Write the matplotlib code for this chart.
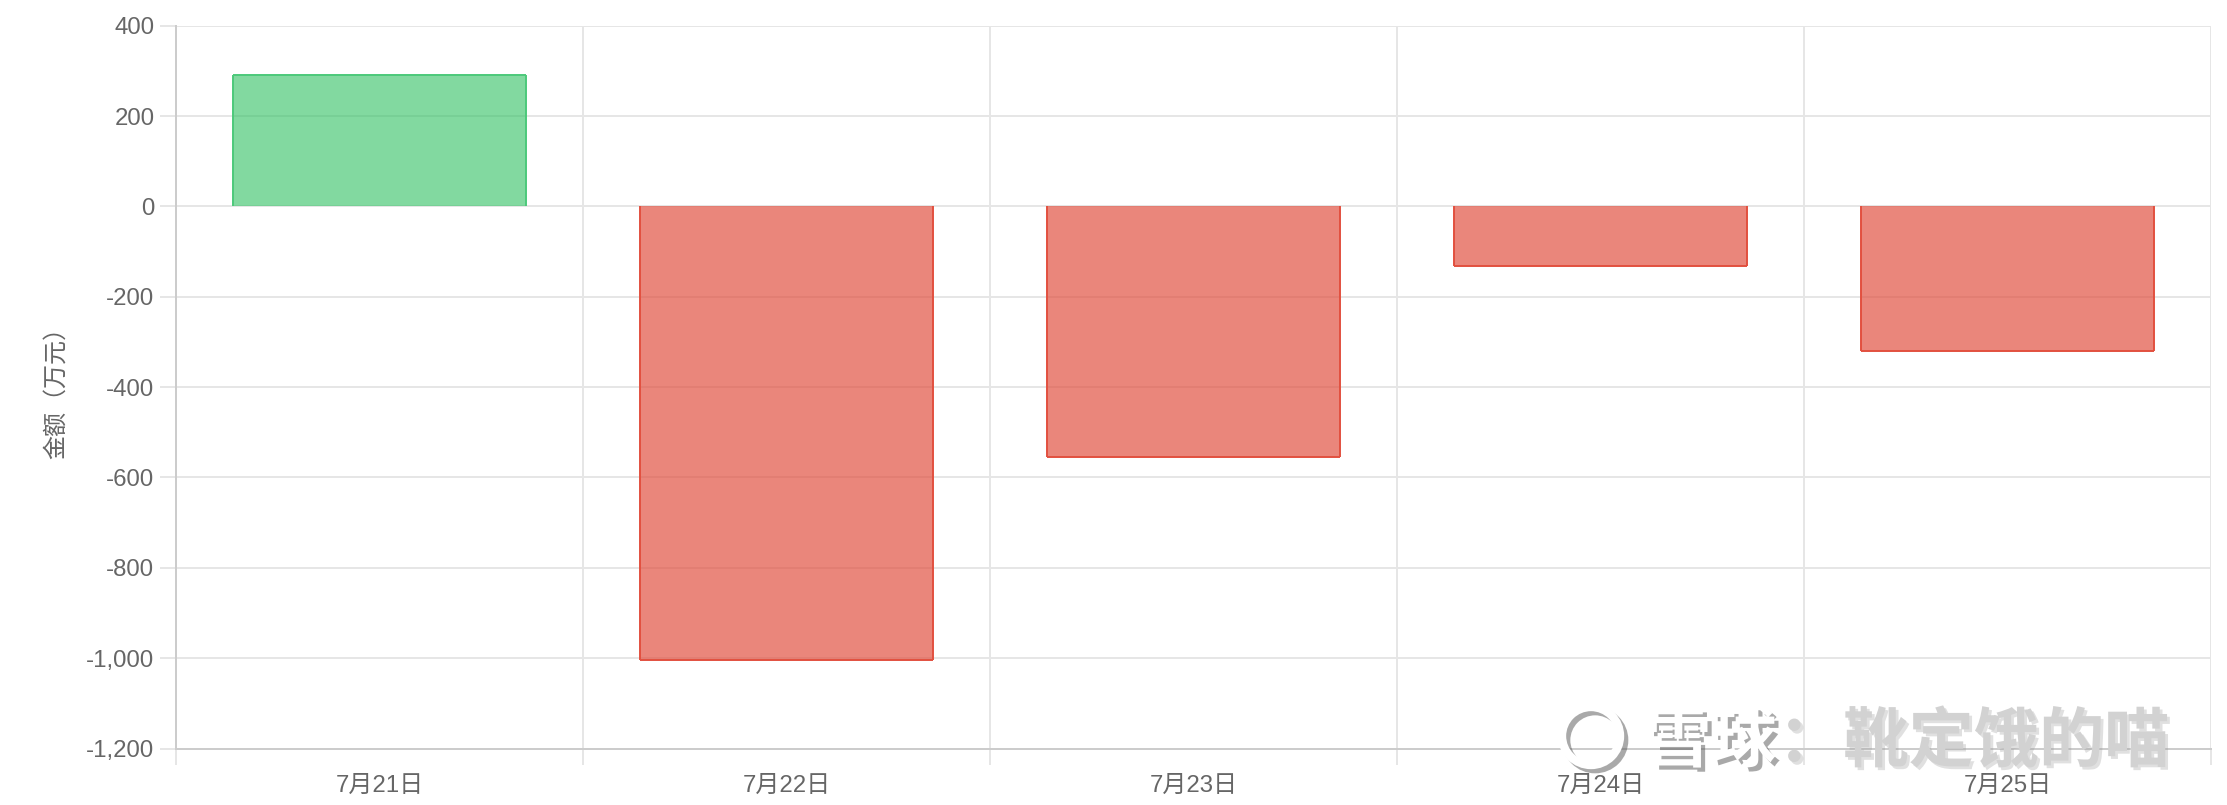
import matplotlib
matplotlib.use("Agg")
import matplotlib.pyplot as plt
import matplotlib.patheffects as pe
from matplotlib.patches import Circle
from matplotlib.transforms import IdentityTransform
from matplotlib.ticker import FuncFormatter, MultipleLocator, FixedLocator

plt.rcParams['font.family'] = ['Liberation Sans', 'Noto Sans CJK SC', 'DejaVu Sans']

# data
dates = ['7月21日', '7月22日', '7月23日', '7月24日', '7月25日']
amounts = [290, -1005, -555, -131, -321]
ylabel = '金额（万元）'
watermark_a = '雪球'
watermark_b = '：靴定饿的喵'

green_fill = (47/255, 192/255, 97/255, 0.6)
green_edge = '#4cc97a'
red_fill = (224/255, 70/255, 53/255, 0.65)
red_edge = '#e2503f'
grid_c = '#e6e6e6'
txt_c = '#666666'
fs = 17.3

fig = plt.figure(figsize=(22.27, 8.05), dpi=100)
ax = fig.add_axes([176/2227, 1-748.5/805, (2211-176)/2227, (748.5-25.7)/805])

x = list(range(len(dates)))
w = 0.72
fills = [green_fill if v >= 0 else red_fill for v in amounts]
edges = [green_edge if v >= 0 else red_edge for v in amounts]
ax.bar(x, amounts, width=w, color=fills, linewidth=0, zorder=2)
# borders on three sides (no border on the zero side)
for xi, v, ec in zip(x, amounts, edges):
    ax.vlines([xi - w/2, xi + w/2], 0, v, colors=ec, linewidth=1.4, zorder=3)
    ax.hlines(v, xi - w/2, xi + w/2, colors=ec, linewidth=1.4, zorder=3)

ax.set_xlim(-0.5, len(dates) - 0.5)
ax.set_ylim(-1200, 400)
ax.yaxis.set_major_locator(MultipleLocator(200))
ax.yaxis.set_major_formatter(FuncFormatter(lambda v, p: f'{int(v):,}'))

ax.set_xticks(x)
ax.set_xticklabels(dates)
ax.xaxis.set_minor_locator(FixedLocator([i + 0.5 for i in range(-1, len(dates))]))

ax.grid(axis='y', which='major', color=grid_c, linewidth=1.44, zorder=0)
ax.grid(axis='x', which='minor', color=grid_c, linewidth=1.44, zorder=0)
ax.set_axisbelow(True)

ax.tick_params(axis='y', which='major', length=11.5, width=1.44, color=grid_c,
               pad=4, labelsize=fs, labelcolor=txt_c)
ax.tick_params(axis='x', which='major', length=0, pad=19, labelsize=fs, labelcolor=txt_c)
ax.tick_params(axis='x', which='minor', length=11.5, width=1.44, color=grid_c)

for s in ['top', 'right']:
    ax.spines[s].set_visible(False)
for s in ['left', 'bottom']:
    ax.spines[s].set_color('#cccccc')
    ax.spines[s].set_linewidth(1.44)

ax.set_ylabel(ylabel, fontsize=fs, color=txt_c)
ax.yaxis.set_label_coords(-0.053, 0.5)

# watermark
wm_y = 1 - 742/805
shadow = [pe.withSimplePatchShadow(offset=(3, -3), shadow_rgbFace='#555555', alpha=0.5)]
fig.text(1646/2227, wm_y, watermark_a, fontsize=47, color='white', weight='bold',
         ha='left', va='center', family=['Noto Sans CJK SC'], path_effects=shadow)
fig.text(1778/2227, wm_y, watermark_b, fontsize=47, color='#d2d2d2', weight='bold',
         ha='left', va='center', family=['Noto Sans CJK SC'],
         path_effects=[pe.withSimplePatchShadow(offset=(2, -2), shadow_rgbFace='#999999', alpha=0.3)])
logo = Circle((1591, 805-736), 29, transform=IdentityTransform(), fill=False, lw=6, ec='white',
              path_effects=[pe.SimpleLineShadow(offset=(3, -3), shadow_color='#555555', alpha=0.5),
                            pe.Normal()])
fig.add_artist(logo)

fig.savefig('out.png', dpi=100)
